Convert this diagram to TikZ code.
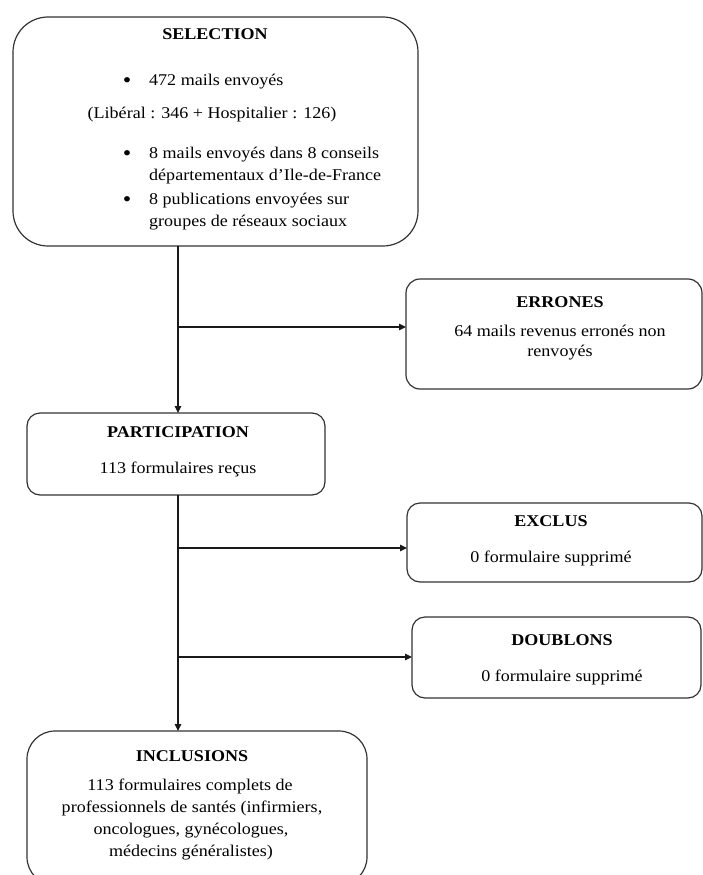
\documentclass[tikz,border=0pt]{standalone}
\usepackage{fontspec}
\setmainfont{Liberation Serif}[FakeStretch=1.1]
\usetikzlibrary{arrows.meta}
\tikzset{
  box/.style={draw=black!80, line width=1.2pt, inner sep=0pt, outer sep=0pt},
  arr/.style={draw=black!90, line width=1.1pt, -{Triangle[length=7pt,width=6.5pt]}},
  txt/.style={inner sep=0pt, anchor=base, font=\fontsize{16.4}{22}\selectfont},
  ttl/.style={txt, font=\fontsize{16.4}{22}\selectfont\bfseries},
  lft/.style={txt, anchor=base west},
  bul/.style={txt, font=\fontsize{22}{22}\selectfont},
}
\begin{document}
\begin{tikzpicture}[x=1pt,y=-1pt]
\useasboundingbox (0,0) rectangle (703,875);
\clip (0,0) rectangle (703,875);
% boxes
\node[box, rounded corners=35pt, minimum width=405pt, minimum height=229pt] (sel) at (215.5,131.5) {};
\node[box, rounded corners=14pt, minimum width=296pt, minimum height=110pt] (err) at (554,334) {};
\node[box, rounded corners=13pt, minimum width=298pt, minimum height=82pt] (part) at (176,454) {};
\node[box, rounded corners=13pt, minimum width=295pt, minimum height=79pt] (excl) at (554.5,542.5) {};
\node[box, rounded corners=13pt, minimum width=289pt, minimum height=81pt] (doub) at (556.5,657.5) {};
\node[box, rounded corners=28pt, minimum width=340pt, minimum height=154pt] (incl) at (197,808) {};
% texts
\node[ttl] (t1) at (215,40) {SELECTION};
\node[bul] (b1) at (127,87) {•};
\node[lft] (l1) at (149,85) {472 mails envoyés};
\node[txt] (l2) at (212,118) {(Libéral : 346 + Hospitalier : 126)};
\node[bul] (b2) at (127,160) {•};
\node[lft] (l3) at (149,158) {8 mails envoyés dans 8 conseils};
\node[lft] (l4) at (149,180.5) {départementaux d’Ile-de-France};
\node[bul] (b3) at (127,206) {•};
\node[lft] (l5) at (149,204) {8 publications envoyées sur};
\node[lft] (l6) at (149,226.5) {groupes de réseaux sociaux};
\node[ttl] (t2) at (560,307) {ERRONES};
\node[txt] (e1) at (560,336) {64 mails revenus erronés non};
\node[txt] (e2) at (560,356) {renvoyés};
\node[ttl] (t3) at (178,437) {PARTICIPATION};
\node[txt] (p1) at (178,473) {113 formulaires reçus};
\node[ttl] (t4) at (551,526) {EXCLUS};
\node[txt] (x1) at (551,562) {0 formulaire supprimé};
\node[ttl] (t5) at (562,645) {DOUBLONS};
\node[txt] (d1) at (562,681) {0 formulaire supprimé};
\node[ttl] (t6) at (192,761) {INCLUSIONS};
\node[txt] (i1) at (190,790) {113 formulaires complets de};
\node[txt] (i2) at (192,812) {professionnels de santés (infirmiers,};
\node[txt] (i3) at (191,834) {oncologues, gynécologues,};
\node[txt] (i4) at (191,856) {médecins généralistes)};
% connectors
\coordinate (trunk) at (178,0);
\coordinate (j1) at (178,327);
\coordinate (j2) at (178,548);
\coordinate (j3) at (178,657);
\draw[arr] (sel.south -| trunk) -- (part.north -| trunk);
\draw[arr] (j1) -- (err.west |- j1);
\draw[arr] (part.south -| trunk) -- (incl.north -| trunk);
\draw[arr] (j2) -- (excl.west |- j2);
\draw[arr] (j3) -- (doub.west |- j3);
\end{tikzpicture}
\end{document}
